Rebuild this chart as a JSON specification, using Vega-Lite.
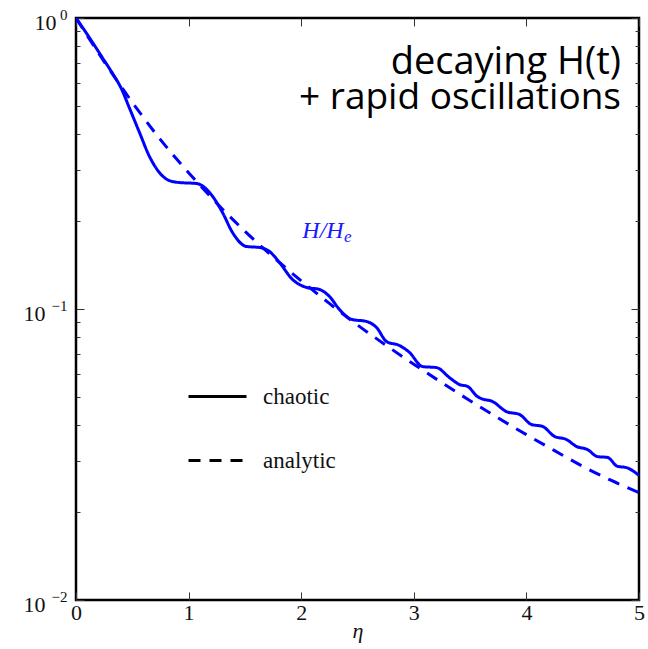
{
  "$schema": "https://vega.github.io/schema/vega-lite/v6.json",
  "autosize": "none",
  "padding": {"left": 76, "top": 18, "right": 9, "bottom": 49},
  "width": 563,
  "height": 582,
  "background": "white",
  "config": {
    "view": {"stroke": "black", "strokeWidth": 2.5},
    "axis": {"grid": false, "domain": false}
  },
  "datasets": {
    "curves": [
      {"eta": 0, "H": 1.0, "series": "chaotic"},
      {"eta": 0.12, "H": 0.855, "series": "chaotic"},
      {"eta": 0.235, "H": 0.73, "series": "chaotic"},
      {"eta": 0.33, "H": 0.64, "series": "chaotic"},
      {"eta": 0.4, "H": 0.575, "series": "chaotic"},
      {"eta": 0.475, "H": 0.49, "series": "chaotic"},
      {"eta": 0.564, "H": 0.404, "series": "chaotic"},
      {"eta": 0.653, "H": 0.334, "series": "chaotic"},
      {"eta": 0.742, "H": 0.294, "series": "chaotic"},
      {"eta": 0.831, "H": 0.276, "series": "chaotic"},
      {"eta": 0.919, "H": 0.272, "series": "chaotic"},
      {"eta": 1.07, "H": 0.27, "series": "chaotic"},
      {"eta": 1.186, "H": 0.2514, "series": "chaotic"},
      {"eta": 1.301, "H": 0.2146, "series": "chaotic"},
      {"eta": 1.39, "H": 0.1832, "series": "chaotic"},
      {"eta": 1.514, "H": 0.164, "series": "chaotic"},
      {"eta": 1.63, "H": 0.1627, "series": "chaotic"},
      {"eta": 1.719, "H": 0.1576, "series": "chaotic"},
      {"eta": 1.807, "H": 0.1445, "series": "chaotic"},
      {"eta": 1.923, "H": 0.1263, "series": "chaotic"},
      {"eta": 2.047, "H": 0.1186, "series": "chaotic"},
      {"eta": 2.163, "H": 0.1167, "series": "chaotic"},
      {"eta": 2.251, "H": 0.1104, "series": "chaotic"},
      {"eta": 2.34, "H": 0.0996, "series": "chaotic"},
      {"eta": 2.447, "H": 0.0921, "series": "chaotic"},
      {"eta": 2.58, "H": 0.0906, "series": "chaotic"},
      {"eta": 2.669, "H": 0.0864, "series": "chaotic"},
      {"eta": 2.758, "H": 0.0773, "series": "chaotic"},
      {"eta": 2.873, "H": 0.0749, "series": "chaotic"},
      {"eta": 2.962, "H": 0.0709, "series": "chaotic"},
      {"eta": 3.077, "H": 0.0634, "series": "chaotic"},
      {"eta": 3.202, "H": 0.0629, "series": "chaotic"},
      {"eta": 3.317, "H": 0.0581, "series": "chaotic"},
      {"eta": 3.406, "H": 0.055, "series": "chaotic"},
      {"eta": 3.477, "H": 0.0542, "series": "chaotic"},
      {"eta": 3.566, "H": 0.05, "series": "chaotic"},
      {"eta": 3.601, "H": 0.0492, "series": "chaotic"},
      {"eta": 3.699, "H": 0.0481, "series": "chaotic"},
      {"eta": 3.823, "H": 0.0444, "series": "chaotic"},
      {"eta": 3.939, "H": 0.0434, "series": "chaotic"},
      {"eta": 4.045, "H": 0.0401, "series": "chaotic"},
      {"eta": 4.143, "H": 0.0395, "series": "chaotic"},
      {"eta": 4.249, "H": 0.0365, "series": "chaotic"},
      {"eta": 4.356, "H": 0.0356, "series": "chaotic"},
      {"eta": 4.445, "H": 0.0337, "series": "chaotic"},
      {"eta": 4.542, "H": 0.0329, "series": "chaotic"},
      {"eta": 4.631, "H": 0.0311, "series": "chaotic"},
      {"eta": 4.72, "H": 0.0309, "series": "chaotic"},
      {"eta": 4.809, "H": 0.0288, "series": "chaotic"},
      {"eta": 4.889, "H": 0.0285, "series": "chaotic"},
      {"eta": 5.0, "H": 0.0268, "series": "chaotic"},
      {"eta": 0, "H": 1.0, "series": "analytic"},
      {"eta": 0.25, "H": 0.708, "series": "analytic"},
      {"eta": 0.5, "H": 0.513, "series": "analytic"},
      {"eta": 0.75, "H": 0.382, "series": "analytic"},
      {"eta": 1.0, "H": 0.294, "series": "analytic"},
      {"eta": 1.25, "H": 0.231, "series": "analytic"},
      {"eta": 1.5, "H": 0.185, "series": "analytic"},
      {"eta": 1.75, "H": 0.151, "series": "analytic"},
      {"eta": 2.0, "H": 0.125, "series": "analytic"},
      {"eta": 2.25, "H": 0.1045, "series": "analytic"},
      {"eta": 2.5, "H": 0.0881, "series": "analytic"},
      {"eta": 2.75, "H": 0.0752, "series": "analytic"},
      {"eta": 3.0, "H": 0.0646, "series": "analytic"},
      {"eta": 3.25, "H": 0.0558, "series": "analytic"},
      {"eta": 3.5, "H": 0.0484, "series": "analytic"},
      {"eta": 3.75, "H": 0.0422, "series": "analytic"},
      {"eta": 4.0, "H": 0.037, "series": "analytic"},
      {"eta": 4.25, "H": 0.0326, "series": "analytic"},
      {"eta": 4.5, "H": 0.0288, "series": "analytic"},
      {"eta": 4.75, "H": 0.0258, "series": "analytic"},
      {"eta": 5.0, "H": 0.0234, "series": "analytic"}
    ]
  },
  "resolve": {"axis": {"x": "independent", "y": "independent"}},
  "layer": [
    {
      "data": {"name": "curves"},
      "mark": {"type": "line", "color": "#0000ff", "strokeWidth": 3, "interpolate": "monotone", "clip": true},
      "encoding": {
        "x": {
          "field": "eta", "type": "quantitative",
          "scale": {"domain": [0, 5], "nice": false, "zero": false},
          "axis": {
            "orient": "bottom", "values": [0, 1, 2, 3, 4, 5],
            "tickSize": -8, "tickColor": "#333333", "tickWidth": 1,
            "labelFont": "Liberation Serif", "labelFontSize": 22, "labelColor": "#111111",
            "labelPadding": 10, "labelFlush": false, "labelOverlap": false,
            "title": "η", "titleFont": "Liberation Serif", "titleFontStyle": "italic",
            "titleFontWeight": "normal", "titleFontSize": 22, "titleColor": "#111111", "titlePadding": -3
          }
        },
        "y": {
          "field": "H", "type": "quantitative",
          "scale": {"type": "log", "domain": [0.01, 1], "nice": false},
          "axis": {
            "orient": "left",
            "values": [0.01, 0.02, 0.03, 0.04, 0.05, 0.06, 0.07, 0.08, 0.09, 0.1, 0.2, 0.3, 0.4, 0.5, 0.6, 0.7, 0.8, 0.9, 1],
            "tickSize": {"condition": {"test": "datum.value == 1 || datum.value == 0.1 || datum.value == 0.01", "value": -8}, "value": -4},
            "tickColor": "#333333", "tickWidth": 1,
            "labelExpr": "(datum.value == 1 || datum.value == 0.1 || datum.value == 0.01) ? '10' : ''",
            "labelFont": "Liberation Serif", "labelFontSize": 22, "labelColor": "#111111",
            "labelPadding": {"condition": {"test": "datum.value == 1", "value": 28}, "value": 39},
            "labelOffset": 4,
            "labelFlush": false, "labelOverlap": false,
            "title": null
          }
        },
        "strokeDash": {
          "field": "series", "type": "nominal",
          "scale": {"domain": ["chaotic", "analytic"], "range": [[1, 0], [12, 9]]},
          "legend": {
            "orient": "none", "legendX": 111, "legendY": 348,
            "title": null, "padding": 0,
            "symbolType": "stroke", "symbolSize": 3364, "symbolStrokeColor": "black",
            "symbolStrokeWidth": 3, "labelOffset": 15, "rowPadding": 21,
            "labelFont": "Liberation Serif", "labelFontSize": 23, "labelColor": "#111111"
          }
        }
      }
    },
    {
      "data": {"values": [{"eta": 4.84, "H": 0.64, "label": "decaying H(t)"}]},
      "mark": {"type": "text", "align": "right", "baseline": "alphabetic", "font": "Open Sans", "fontSize": 38, "color": "black"},
      "encoding": {
        "x": {
          "field": "eta", "type": "quantitative",
          "scale": {"domain": [0, 5], "nice": false, "zero": false},
          "axis": {"orient": "top", "values": [0, 1, 2, 3, 4, 5], "tickSize": -8, "tickColor": "#333333", "tickWidth": 1, "labels": false, "title": null}
        },
        "y": {
          "field": "H", "type": "quantitative",
          "scale": {"type": "log", "domain": [0.01, 1], "nice": false},
          "axis": {
            "orient": "right",
            "values": [0.01, 0.02, 0.03, 0.04, 0.05, 0.06, 0.07, 0.08, 0.09, 0.1, 0.2, 0.3, 0.4, 0.5, 0.6, 0.7, 0.8, 0.9, 1],
            "tickSize": {"condition": {"test": "datum.value == 1 || datum.value == 0.1 || datum.value == 0.01", "value": -8}, "value": -4},
            "tickColor": "#333333", "tickWidth": 1, "labels": false, "title": null
          }
        },
        "text": {"field": "label"}
      }
    },
    {
      "data": {"values": [{"eta": 4.84, "H": 0.485, "label": "+ rapid oscillations"}]},
      "mark": {"type": "text", "align": "right", "baseline": "alphabetic", "font": "Open Sans", "fontSize": 37, "color": "black"},
      "encoding": {
        "x": {"field": "eta", "type": "quantitative", "scale": {"domain": [0, 5], "nice": false, "zero": false}, "axis": null},
        "y": {
          "field": "H", "type": "quantitative",
          "scale": {"type": "log", "domain": [0.01, 1], "nice": false},
          "axis": {
            "orient": "left", "values": [0.01, 0.1, 1], "ticks": false, "tickSize": 0,
            "labelExpr": "datum.value == 1 ? '0' : datum.value == 0.1 ? '−1' : '−2'",
            "labelFont": "Liberation Serif", "labelFontSize": 15, "labelColor": "#111111",
            "labelPadding": 9, "labelOffset": -4, "labelFlush": false, "labelOverlap": false,
            "title": null
          }
        },
        "text": {"field": "label"}
      }
    },
    {
      "data": {"values": [{"eta": 2.01, "H": 0.176, "label": "H/H"}]},
      "mark": {"type": "text", "align": "left", "baseline": "alphabetic", "font": "Liberation Serif", "fontStyle": "italic", "fontSize": 24, "color": "#1a1aff"},
      "encoding": {
        "x": {"field": "eta", "type": "quantitative", "scale": {"domain": [0, 5], "nice": false, "zero": false}, "axis": null},
        "y": {"field": "H", "type": "quantitative", "scale": {"type": "log", "domain": [0.01, 1], "nice": false}, "axis": null},
        "text": {"field": "label"}
      }
    },
    {
      "data": {"values": [{"eta": 2.38, "H": 0.1693, "label": "e"}]},
      "mark": {"type": "text", "align": "left", "baseline": "alphabetic", "font": "Liberation Serif", "fontStyle": "italic", "fontSize": 17, "color": "#1a1aff"},
      "encoding": {
        "x": {"field": "eta", "type": "quantitative", "scale": {"domain": [0, 5], "nice": false, "zero": false}, "axis": null},
        "y": {"field": "H", "type": "quantitative", "scale": {"type": "log", "domain": [0.01, 1], "nice": false}, "axis": null},
        "text": {"field": "label"}
      }
    }
  ]
}
